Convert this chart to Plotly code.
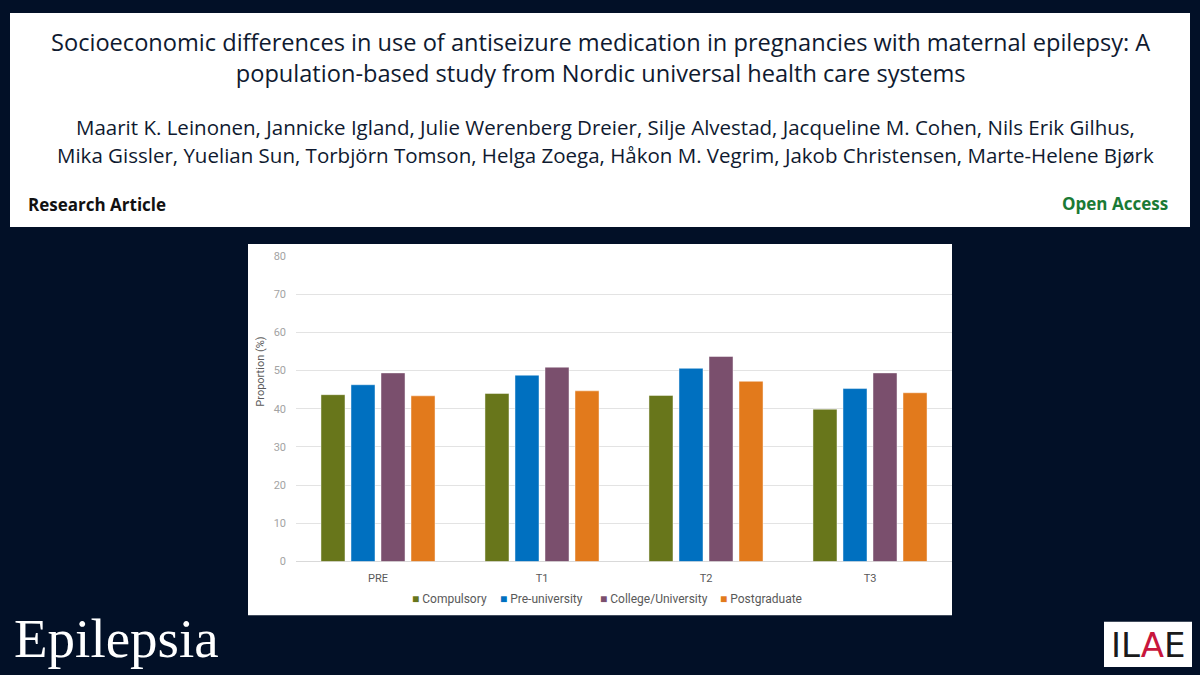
import plotly.graph_objects as go

W, H = 1200, 675

# ---- data ----
categories = ["PRE", "T1", "T2", "T3"]
series_names = ["Compulsory", "Pre-university", "College/University", "Postgraduate"]
compulsory = [43.7, 44.0, 43.5, 39.9]
pre_university = [46.3, 48.8, 50.6, 45.3]
college_university = [49.4, 50.9, 53.7, 49.4]
postgraduate = [43.4, 44.7, 47.2, 44.2]
y_ticks = [0, 10, 20, 30, 40, 50, 60, 70, 80]

series_values = [compulsory, pre_university, college_university, postgraduate]
colors = ["#68761B", "#0070C0", "#7A4F6D", "#E27A1C"]
legend_x = [414, 502, 602, 722]  # legend marker centres (px)

BG = "#021027"
NAVY_TEXT = "#0f1a30"


def px(x):
    return x / W


def py(y):
    # vertical placement in page pixels (top = 0)
    y = (y - 5.6) / 0.98
    return 1 - y / H


fig = go.Figure()
for name, vals, col in zip(series_names, series_values, colors):
    fig.add_trace(go.Bar(
        name=name, x=categories, y=vals, showlegend=False,
        marker=dict(color=col, line=dict(color="rgba(255,255,255,0.45)", width=1)),
    ))

shapes = [
    dict(type="rect", xref="paper", yref="paper", x0=px(10), x1=px(1190), y0=py(226.5), y1=py(12.5),
         fillcolor="white", line=dict(width=0), layer="below"),
    dict(type="rect", xref="paper", yref="paper", x0=px(248), x1=px(952), y0=py(614.5), y1=py(243.3),
         fillcolor="white", line=dict(width=0), layer="below"),
    dict(type="rect", xref="paper", yref="paper", x0=px(1104), x1=px(1192), y0=py(666), y1=py(621),
         fillcolor="white", line=dict(width=0), layer="below"),
]

ann = []


def text(x, y, s, size, color, family="Open Sans", xanchor="center", bold=False, angle=0):
    ann.append(dict(
        xref="paper", yref="paper", x=px(x), y=py(y), text=f"<b>{s}</b>" if bold else s,
        showarrow=False, xanchor=xanchor, yanchor="middle", textangle=angle,
        font=dict(family=family, size=size, color=color),
    ))


text(600, 57, "Socioeconomic differences in use of antiseizure medication in pregnancies with maternal epilepsy: A"
     "<br>population-based study from Nordic universal health care systems", 23.6, NAVY_TEXT)
text(605, 127, "Maarit K. Leinonen, Jannicke Igland, Julie Werenberg Dreier, Silje Alvestad, Jacqueline M. Cohen, Nils Erik Gilhus,", 20.5, NAVY_TEXT)
text(605, 154, "Mika Gissler, Yuelian Sun, Torbjörn Tomson, Helga Zoega, Håkon M. Vegrim, Jakob Christensen, Marte-Helene Bjørk", 20.5, NAVY_TEXT)
text(26, 204, "Research Article", 17, "#111111", xanchor="left", bold=True)
text(1170, 203, "Open Access", 17, "#1a7a35", xanchor="right", bold=True)

# y axis title
text(261, 371, "Proportion (%)", 11, "#595959", family="Roboto", angle=-90)

# legend (drawn as text entries with coloured squares)
for name, col, lx in zip(series_names, colors, legend_x):
    ann.append(dict(
        xref="paper", yref="paper", x=px(lx - 4), y=py(598),
        text=f"<span style='color:{col}'>■</span> {name}",
        showarrow=False, xanchor="left", yanchor="middle",
        font=dict(family="Roboto", size=12, color="#595959"),
    ))

# Epilepsia logo
text(12, 638, "Epilepsia", 55, "white", family="Liberation Serif", xanchor="left")
# ILAE logo
ann.append(dict(
    xref="paper", yref="paper", x=px(1148), y=py(644),
    text="<span style='color:#1a1a1a'>IL</span><span style='color:#c8163c'>A</span><span style='color:#1a1a1a'>E</span>",
    showarrow=False, xanchor="center", yanchor="middle",
    font=dict(family="DejaVu Sans", size=34, color="#1a1a1a"),
))

fig.update_layout(
    width=W, height=H,
    margin=dict(l=0, r=0, t=0, b=0),
    paper_bgcolor=BG,
    plot_bgcolor="white",
    barmode="group",
    bargap=0.268,
    bargroupgap=0.2,
    shapes=shapes,
    annotations=ann,
    showlegend=False,
    xaxis=dict(
        domain=[px(296), px(952)],
        showgrid=False, showline=False, zeroline=False,
        tickfont=dict(family="Roboto", size=11, color="#595959"),
        ticks="", ticklabelstandoff=8,
    ),
    yaxis=dict(
        domain=[py(560.7), py(255.5)],
        range=[0, 80], tickvals=y_ticks,
        showgrid=True, gridcolor="#e3e3e3", gridwidth=1,
        zeroline=True, zerolinecolor="#d9d9d9", zerolinewidth=1,
        showline=False,
        tickfont=dict(family="Roboto", size=11, color="#a3a3a3"),
        ticks="", ticklabelstandoff=9,
    ),
)

fig.write_html(
    "out.html",
    config={"displayModeBar": False},
    post_script=(
        "document.documentElement.style.margin='0';"
        "document.documentElement.style.overflow='hidden';"
        "document.body.style.margin='0';document.body.style.padding='0';"
        "document.body.style.overflow='hidden';"
    ),
)
